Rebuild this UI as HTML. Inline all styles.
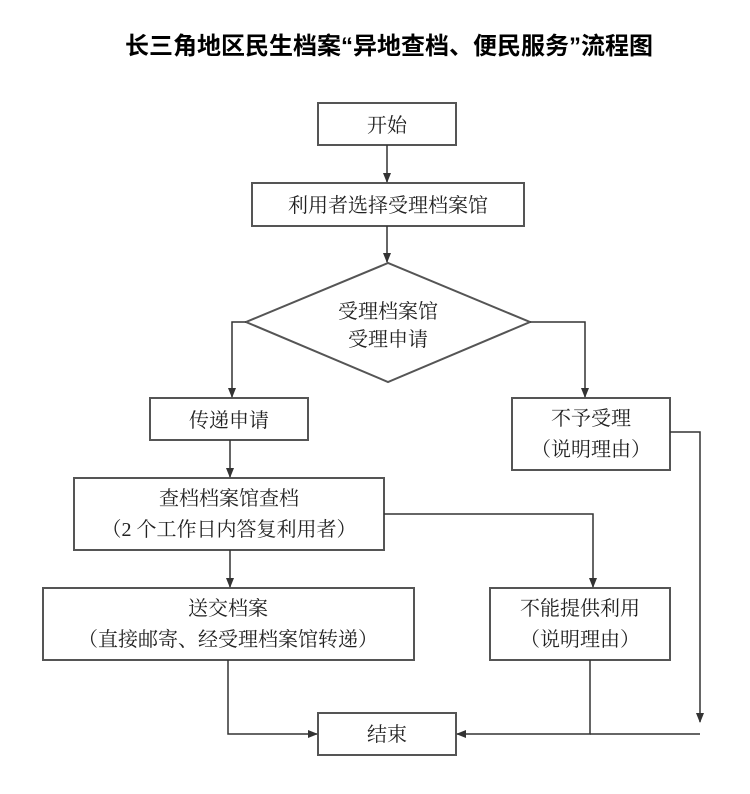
<!DOCTYPE html>
<html><head><meta charset="utf-8"><style>
html,body{margin:0;padding:0;background:#fff;}
body{width:750px;height:789px;overflow:hidden;}
svg text{font-family:"Liberation Serif","Noto Serif CJK SC",serif;fill:#222;}
svg text.t{font-family:"Liberation Sans","Noto Sans CJK SC",sans-serif;}
</style></head><body>
<svg width="750" height="789" viewBox="0 0 750 789" xmlns="http://www.w3.org/2000/svg">
<defs><marker id="a" markerWidth="10" markerHeight="10" refX="9" refY="5" orient="auto" markerUnits="userSpaceOnUse"><path d="M0,1 L10,5 L0,9 Z" fill="#333"/></marker></defs>
<text class="t" x="389" y="54" font-size="24" font-weight="bold" text-anchor="middle" style="fill:#000">长三角地区民生档案“异地查档、便民服务”流程图</text>
<g fill="#fff" stroke="#555" stroke-width="2">
<rect x="318" y="103" width="138" height="42"/>
<rect x="252" y="183" width="272" height="43"/>
<polygon points="246,322 388,263 530,322 388,382"/>
<rect x="150" y="398" width="158" height="42"/>
<rect x="512" y="398" width="158" height="72"/>
<rect x="74" y="478" width="310" height="72"/>
<rect x="43" y="588" width="371" height="72"/>
<rect x="490" y="588" width="180" height="72"/>
<rect x="318" y="713" width="138" height="42"/>
</g>
<g stroke="#333" stroke-width="1.5" fill="none">
<line x1="387" y1="145" x2="387" y2="182" marker-end="url(#a)"/>
<line x1="387" y1="226" x2="387" y2="262" marker-end="url(#a)"/>
<polyline points="246,322 232,322 232,397" marker-end="url(#a)"/>
<polyline points="530,322 585,322 585,397" marker-end="url(#a)"/>
<line x1="230" y1="440" x2="230" y2="477" marker-end="url(#a)"/>
<line x1="230" y1="550" x2="230" y2="587" marker-end="url(#a)"/>
<polyline points="384,514 593,514 593,587" marker-end="url(#a)"/>
<polyline points="228,660 228,734 317,734" marker-end="url(#a)"/>
<polyline points="590,660 590,734 457,734" marker-end="url(#a)"/>
<polyline points="670,432 700,432 700,722" marker-end="url(#a)"/>
<line x1="700" y1="734" x2="590" y2="734"/>
</g>
<g font-size="20" text-anchor="middle">
<text x="387" y="132">开始</text>
<text x="388" y="212">利用者选择受理档案馆</text>
<text x="388" y="318">受理档案馆</text>
<text x="388" y="346">受理申请</text>
<text x="229" y="427">传递申请</text>
<text x="591" y="425">不予受理</text>
<text x="591" y="456">（说明理由）</text>
<text x="229" y="505">查档档案馆查档</text>
<text x="229" y="536">（2 个工作日内答复利用者）</text>
<text x="228" y="615">送交档案</text>
<text x="228" y="646">（直接邮寄、经受理档案馆转递）</text>
<text x="580" y="615">不能提供利用</text>
<text x="580" y="646">（说明理由）</text>
<text x="387" y="741">结束</text>
</g>
</svg>
</body></html>
